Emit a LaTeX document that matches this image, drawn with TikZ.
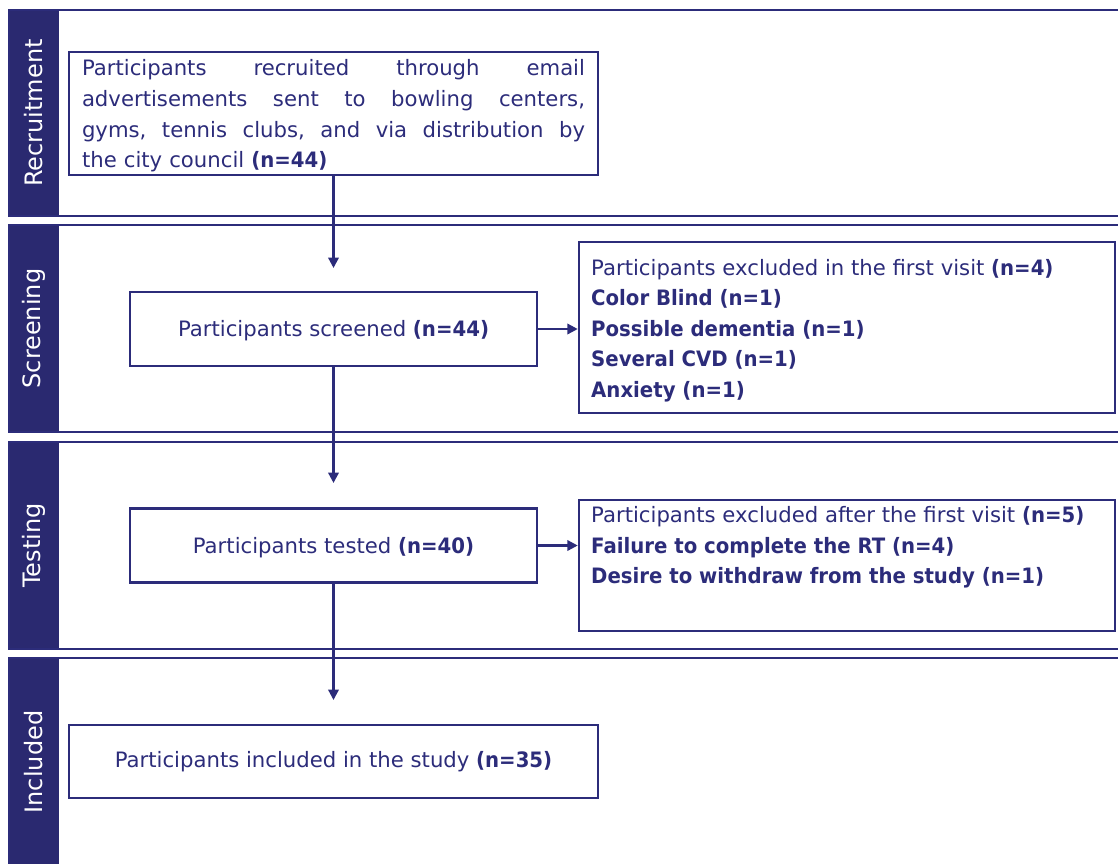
\documentclass[tikz,border=0pt]{standalone}
\usepackage{fontspec}
\setmainfont{DejaVu Sans}[BoldFeatures={FakeStretch=0.93}]
\usetikzlibrary{arrows.meta}
\definecolor{navy}{RGB}{44,44,122}
\definecolor{sidenavy}{RGB}{42,41,112}
\newcommand{\jline}[1]{\leavevmode\hbox to 503pt{#1}}
\begin{document}
\begin{tikzpicture}[x=1pt,y=-1pt,
  band/.style={draw=navy,line width=2.4pt},
  side/.style={fill=sidenavy},
  sidelabel/.style={rotate=90,text=white,inner sep=0pt,font=\fontsize{24}{28}\selectfont},
  box/.style={draw=navy,line width=2.5pt,rectangle,inner sep=0pt},
  txt/.style={text=navy,inner sep=0pt,align=left,font=\fontsize{21.2}{30.6}\selectfont},
  ctxt/.style={text=navy,inner sep=0pt,font=\fontsize{21.2}{30.6}\selectfont},
  arr/.style={draw=navy,line width=2.3pt,-{Triangle[length=10.5pt,width=10.5pt]}},
]
\useasboundingbox (0,0) rectangle (1118,863);
\begin{scope}
\clip (0,0) rectangle (1118,863);
% bands
\fill[side] (9,10) rectangle (59,216);
\draw[band] (9,10) rectangle (1130,216);
\fill[side] (9,225) rectangle (59,432);
\draw[band] (9,225) rectangle (1130,432);
\fill[side] (9,442) rectangle (59,649);
\draw[band] (9,442) rectangle (1130,649);
\fill[side] (9,658) rectangle (59,880);
\draw[band] (9,658) rectangle (1130,880);
\end{scope}
% side labels
\node[sidelabel] (lrec) at (34,113) {Recruitment};
\node[sidelabel] (lscr) at (34,328.5) {Screening};
\node[sidelabel] (ltes) at (34,545.5) {Testing};
\node[sidelabel] (linc) at (34,762) {Included};
% boxes
\node[box,minimum width=529pt,minimum height=123pt] (rec) at (333.5,113.5) {};
\node[box,minimum width=407pt,minimum height=74pt] (scr) at (333.5,329) {};
\node[box,minimum width=407pt,minimum height=74pt] (tes) at (333.5,545.5) {};
\node[box,minimum width=529pt,minimum height=73pt] (inc) at (333.5,761.5) {};
\node[box,minimum width=536pt,minimum height=171pt] (exa) at (847,327.5) {};
\node[box,minimum width=536pt,minimum height=131pt] (exb) at (847,565.5) {};
% texts
\node[txt,text width=503pt] (rect) at (333.5,116)
 {\jline{Participants\hfill recruited\hfill through\hfill email}\\
  \jline{advertisements\hfill sent\hfill to\hfill bowling\hfill centers,}\\
  \jline{gyms,\hfill tennis\hfill clubs,\hfill and\hfill via\hfill distribution\hfill by}\\
  the city council \textbf{(n=44)}};
\node[ctxt] (scrt) at (333.5,331) {Participants screened \textbf{(n=44)}};
\node[ctxt] (test) at (333.5,548) {Participants tested \textbf{(n=40)}};
\node[ctxt] (inct) at (333.5,762) {Participants included in the study \textbf{(n=35)}};
\node[txt,anchor=west] (exat) at (591,330.5)
 {Participants excluded in the first visit \textbf{(n=4)}\\
  \textbf{Color Blind (n=1)}\\
  \textbf{Possible dementia (n=1)}\\
  \textbf{Several CVD (n=1)}\\
  \textbf{Anxiety (n=1)}};
\node[txt,anchor=west] (exbt) at (591,547.5)
 {Participants excluded after the first visit \textbf{(n=5)}\\
  \textbf{Failure to complete the RT (n=4)}\\
  \textbf{Desire to withdraw from the study (n=1)}};
% arrows
\coordinate (t1) at (333.5,268);
\coordinate (t2) at (333.5,483);
\coordinate (t3) at (333.5,700);
\draw[arr] (rec.south) -- (t1);
\draw[arr] (scr.south) -- (t2);
\draw[arr] (tes.south) -- (t3);
\draw[arr] (scr.east) -- (scr.east -| exa.west);
\draw[arr] (tes.east) -- (tes.east -| exb.west);
\end{tikzpicture}
\end{document}
